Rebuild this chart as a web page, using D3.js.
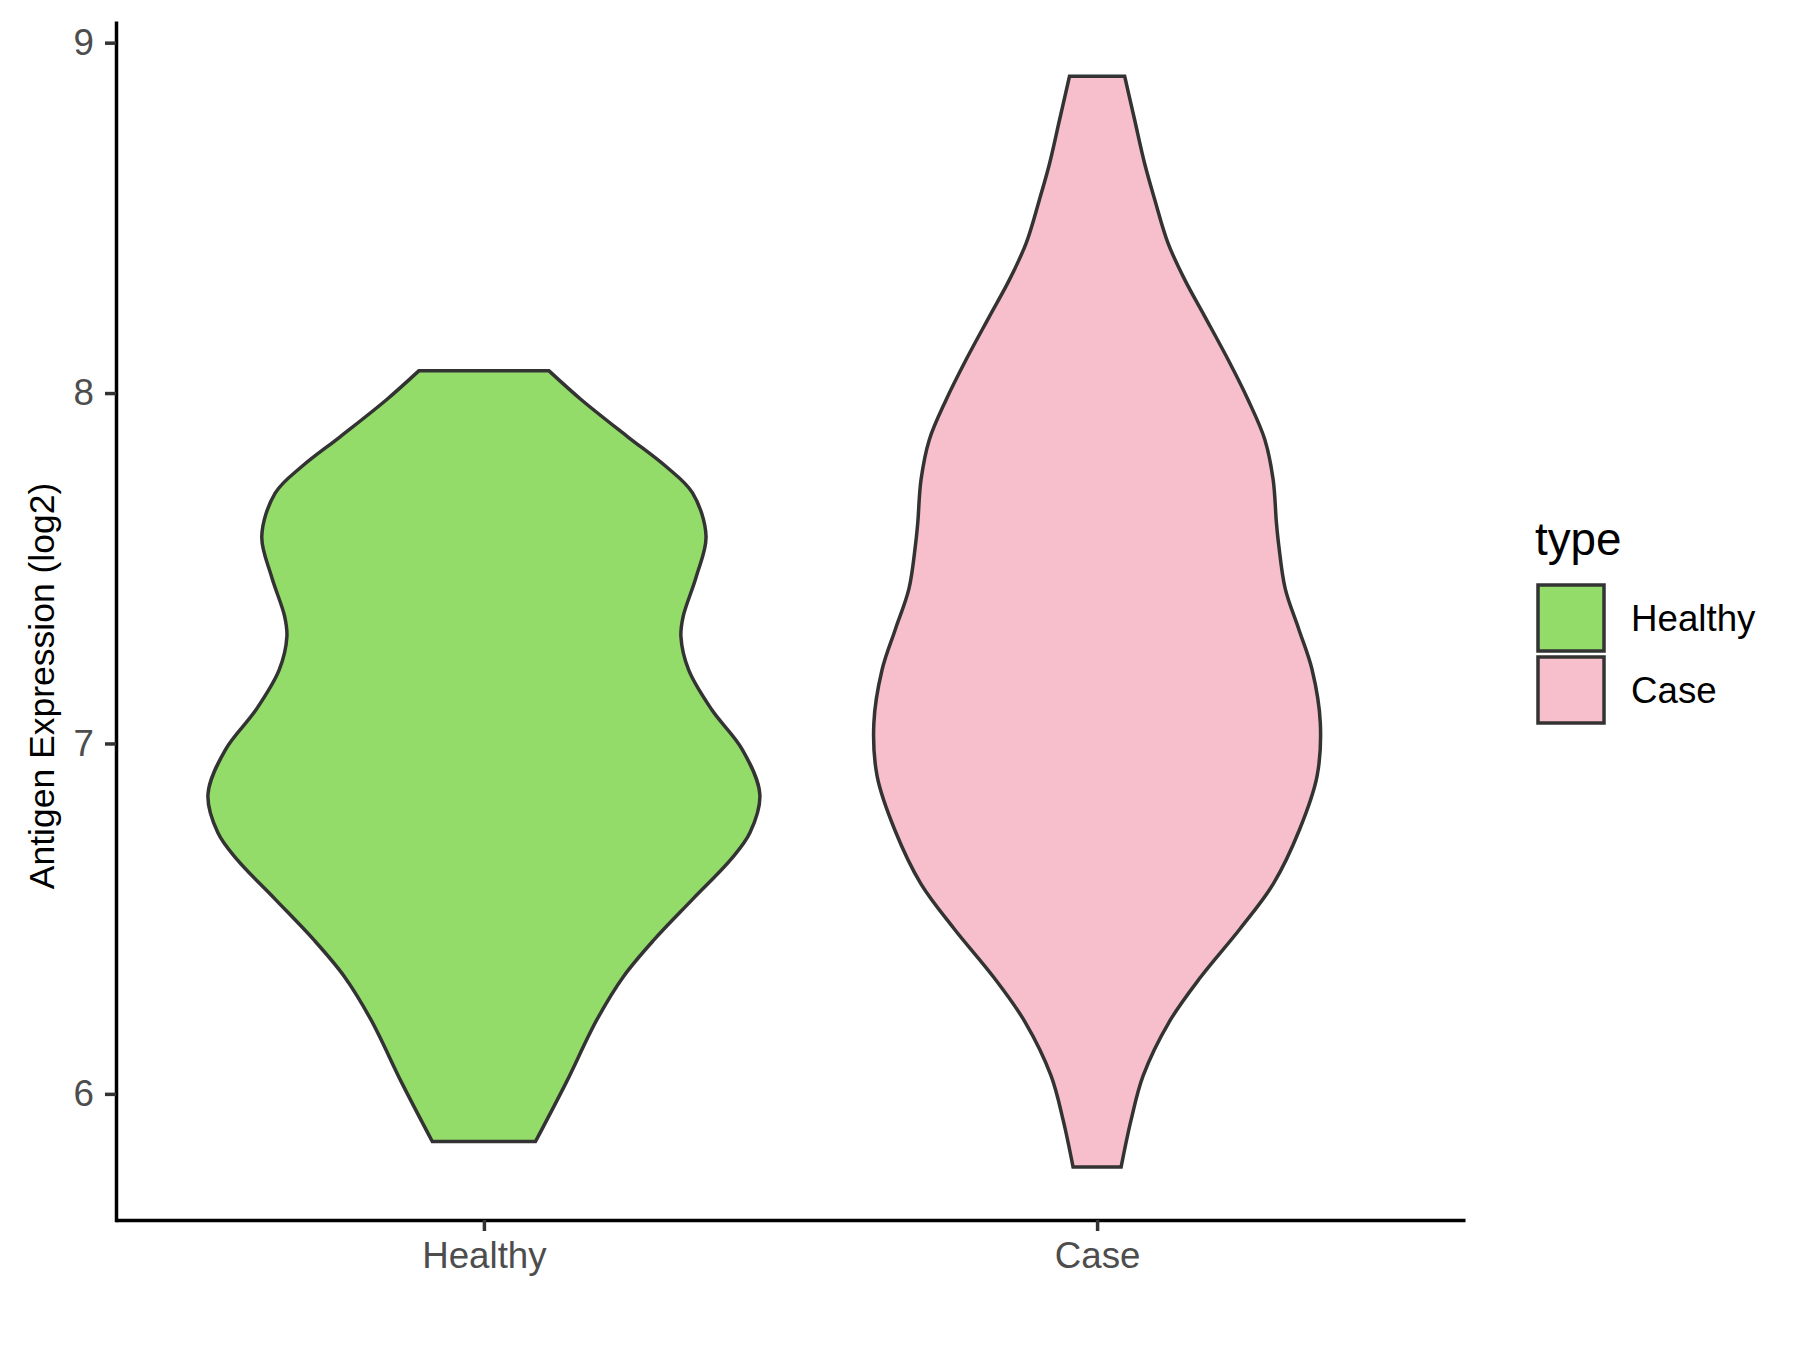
<!DOCTYPE html>
<html>
<head>
<meta charset="utf-8">
<script src="https://cdn.jsdelivr.net/npm/d3@7"></script>
<style>
  html, body { margin: 0; padding: 0; background: #fff; }
  svg { display: block; }
  text { font-family: "Liberation Sans", Arial, Helvetica, sans-serif; }
</style>
</head>
<body>
<script>
// ---------------- data ----------------
const categories = ["Healthy", "Case"];
const fillColors = ["#94DC6A", "#F7BFCB"];
const yTicks = [6, 7, 8, 9];
const yTitle = "Antigen Expression (log2)";
const legendTitle = "type";

// violin outlines: value (log2) and relative density (width as fraction of max)
const healthyValues = [5.864, 6.032, 6.211, 6.335, 6.440, 6.555, 6.669, 6.745, 6.855, 6.982, 7.096, 7.210, 7.305, 7.362, 7.477, 7.591, 7.715, 7.791, 7.876, 7.981, 8.064];
const healthyDensity = [0.187, 0.298, 0.409, 0.506, 0.617, 0.756, 0.895, 0.964, 1.000, 0.937, 0.826, 0.742, 0.714, 0.722, 0.770, 0.805, 0.756, 0.659, 0.520, 0.353, 0.235];

const caseValues = [5.791, 5.925, 6.052, 6.205, 6.332, 6.472, 6.600, 6.753, 6.906, 7.058, 7.211, 7.326, 7.441, 7.568, 7.629, 7.753, 7.867, 7.981, 8.095, 8.219, 8.323, 8.428, 8.552, 8.656, 8.780, 8.904];
const caseDensity = [0.087, 0.123, 0.167, 0.261, 0.374, 0.519, 0.639, 0.733, 0.797, 0.809, 0.779, 0.731, 0.682, 0.658, 0.650, 0.638, 0.608, 0.547, 0.475, 0.390, 0.318, 0.257, 0.209, 0.172, 0.136, 0.100];

const series = [
  { name: categories[0], values: healthyValues, density: healthyDensity, fill: fillColors[0] },
  { name: categories[1], values: caseValues, density: caseDensity, fill: fillColors[1] }
];

// ---------------- layout ----------------
const W = 1800, H = 1350;
const panel = { left: 116, right: 1465, top: 22.7, bottom: 1220 };

const svg = d3.select("body").append("svg")
  .attr("width", W).attr("height", H)
  .attr("viewBox", `0 0 ${W} ${H}`);

svg.append("rect").attr("width", W).attr("height", H).attr("fill", "#fff");

const y = d3.scaleLinear().domain([5.640, 9.057]).range([panel.bottom, panel.top]);
const x = d3.scalePoint().domain(categories).range([panel.left, panel.right]).padding(0.6);
const halfW = d3.scaleLinear().domain([0, 1]).range([0, 0.45 * x.step()]);

// ---------------- violins ----------------
const g = svg.append("g");
series.forEach(s => {
  const pts = s.values.map((v, i) => ({ v, d: s.density[i] }));
  const cx = x(s.name);
  const area = d3.area()
    .y(p => y(p.v))
    .x0(p => cx - halfW(p.d))
    .x1(p => cx + halfW(p.d))
    .curve(d3.curveCatmullRom.alpha(0.5));
  g.append("path")
    .attr("d", area(pts))
    .attr("fill", s.fill)
    .attr("stroke", "#333333")
    .attr("stroke-width", 3.5)
    .attr("stroke-linejoin", "miter");
});

// ---------------- axes ----------------
const tickFont = 36.7;
const yAxis = d3.axisLeft(y).tickValues(yTicks).tickSize(11).tickSizeOuter(0).tickPadding(11).tickFormat(d3.format("d"));
const gy = svg.append("g").attr("transform", `translate(${panel.left},0)`).call(yAxis);
gy.select(".domain").attr("stroke", "#000").attr("stroke-width", 3.5).attr("stroke-linecap", "square");
gy.selectAll(".tick line").attr("stroke", "#333333").attr("stroke-width", 3.5);
gy.selectAll(".tick text").attr("fill", "#4D4D4D").attr("font-size", tickFont)
  .attr("font-family", "Liberation Sans, Arial, sans-serif");

const xAxis = d3.axisBottom(x).tickSize(11).tickSizeOuter(0).tickPadding(11);
const gx = svg.append("g").attr("transform", `translate(0,${panel.bottom})`).call(xAxis);
gx.select(".domain").attr("stroke", "#000").attr("stroke-width", 3.5);
gx.selectAll(".tick line").attr("stroke", "#333333").attr("stroke-width", 3.5);
gx.selectAll(".tick text").attr("fill", "#4D4D4D").attr("font-size", tickFont)
  .attr("font-family", "Liberation Sans, Arial, sans-serif");

// y title
svg.append("text")
  .attr("transform", `translate(54,686) rotate(-90)`)
  .attr("text-anchor", "middle")
  .attr("font-size", 35.5)
  .attr("fill", "#000")
  .text(yTitle);

// ---------------- legend ----------------
const lg = svg.append("g");
lg.append("text").attr("x", 1535).attr("y", 555).attr("font-size", 45.8).attr("fill", "#000").text(legendTitle);
const keySize = 66, keyGap = 6, keyX = 1538, keyY0 = 585;
series.forEach((s, i) => {
  const ky = keyY0 + i * (keySize + keyGap);
  lg.append("rect")
    .attr("x", keyX).attr("y", ky)
    .attr("width", keySize).attr("height", keySize)
    .attr("fill", s.fill).attr("stroke", "#333333").attr("stroke-width", 3.5);
  lg.append("text")
    .attr("x", 1631).attr("y", ky + keySize / 2)
    .attr("dy", "0.36em")
    .attr("font-size", tickFont).attr("fill", "#000")
    .text(s.name);
});
</script>
</body>
</html>
